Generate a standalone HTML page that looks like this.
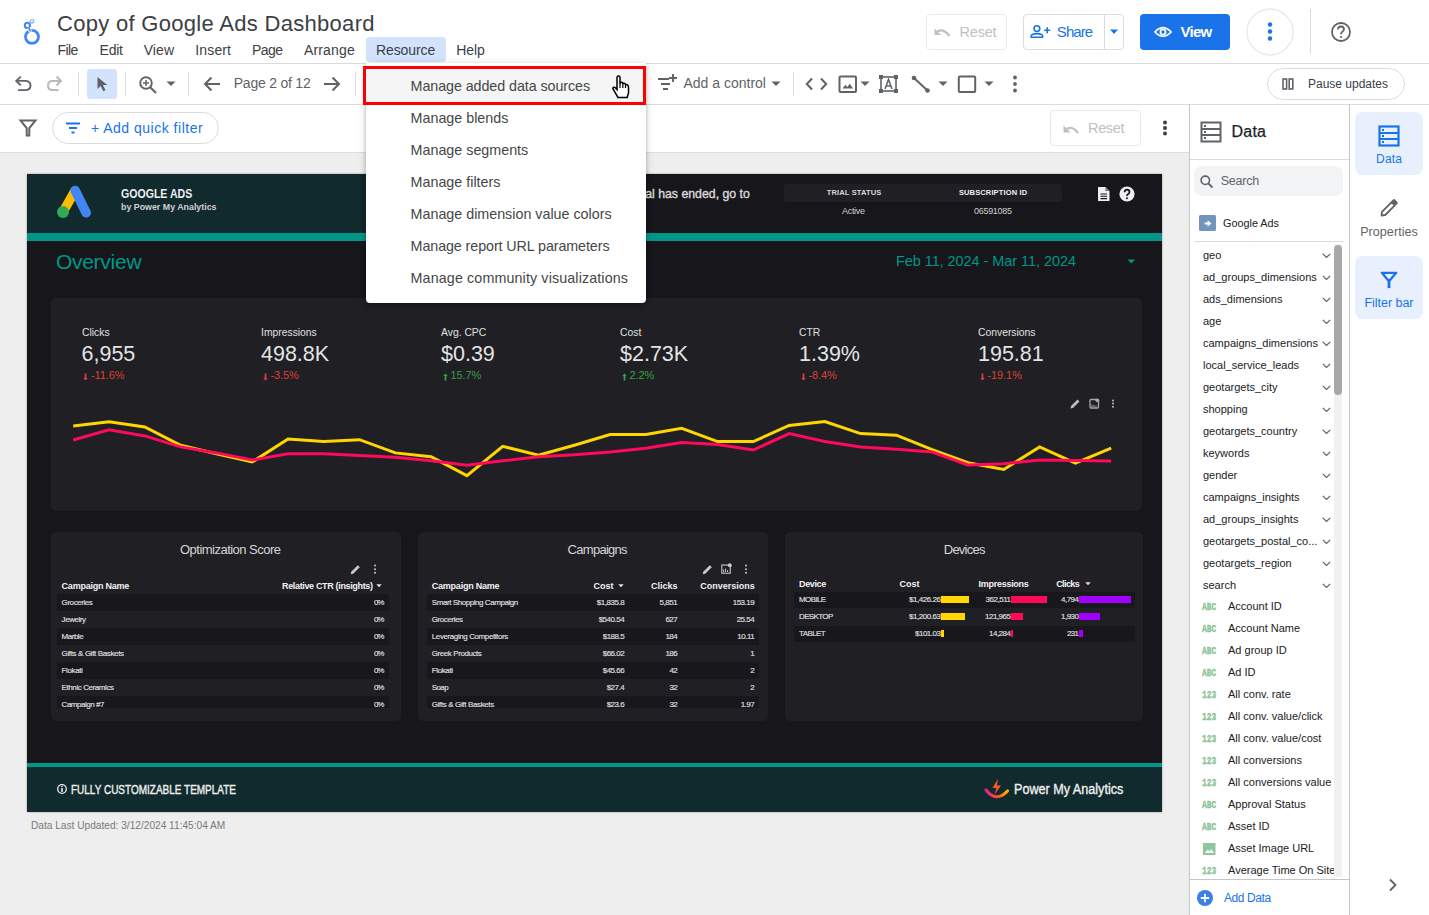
<!DOCTYPE html><html><head><meta charset="utf-8"><style>
html,body{margin:0;padding:0;}
body{width:1429px;height:915px;overflow:hidden;position:relative;background:#fff;font-family:"Liberation Sans",sans-serif;}
.t{position:absolute;white-space:nowrap;line-height:1;}
.r{position:absolute;}
.s{position:absolute;overflow:visible;}
</style></head><body>
<div class="r" style="left:0px;top:153px;width:1189px;height:762px;background:#eeeeee;"></div>
<div class="r" style="left:0px;top:63px;width:1429px;height:1px;background:#dadce0;"></div>
<div class="r" style="left:0px;top:104px;width:1429px;height:1px;background:#dadce0;"></div>
<div class="r" style="left:0px;top:152px;width:1189px;height:1px;background:#dadce0;"></div>
<svg class="s" style="left:22px;top:17px;" width="22" height="30" viewBox="0 0 22 30"><circle cx="10" cy="19.8" r="6.5" fill="none" stroke="#4285f4" stroke-width="2.8"/><circle cx="5.4" cy="8.4" r="2.6" fill="none" stroke="#4285f4" stroke-width="2"/><path d="M6.9 10.6 L8.4 14.8" stroke="#fff" stroke-width="3.4"/><path d="M6.9 10.6 L8.2 14.3" stroke="#4285f4" stroke-width="1.8"/><circle cx="10" cy="4.3" r="1.7" fill="none" stroke="#8ab4f8" stroke-width="1.3"/></svg>
<div class="t" style="left:57.00px;top:13.00px;font-size:22px;color:#3c4043;letter-spacing:0.299px;">Copy of Google Ads Dashboard</div>
<div class="r" style="left:366px;top:37px;width:80px;height:25px;background:#d3e3fd;border-radius:4px;"></div>
<div class="t" style="left:57.60px;top:43.00px;font-size:14px;color:#3c4043;letter-spacing:-0.653px;">File</div>
<div class="t" style="left:99.50px;top:43.00px;font-size:14px;color:#3c4043;letter-spacing:-0.208px;">Edit</div>
<div class="t" style="left:143.70px;top:43.00px;font-size:14px;color:#3c4043;letter-spacing:0.069px;">View</div>
<div class="t" style="left:195.30px;top:43.00px;font-size:14px;color:#3c4043;letter-spacing:0.137px;">Insert</div>
<div class="t" style="left:252.00px;top:43.00px;font-size:14px;color:#3c4043;letter-spacing:-0.533px;">Page</div>
<div class="t" style="left:304.00px;top:43.00px;font-size:14px;color:#3c4043;letter-spacing:0.148px;">Arrange</div>
<div class="t" style="left:376.00px;top:43.00px;font-size:14px;color:#3c4043;letter-spacing:-0.103px;">Resource</div>
<div class="t" style="left:456.30px;top:43.00px;font-size:14px;color:#3c4043;letter-spacing:-0.131px;">Help</div>
<div class="r" style="left:926px;top:14px;width:81px;height:36px;background:#fff;border:1px solid #e8eaed;border-radius:4px;box-sizing:border-box;"></div>
<svg class="s" style="left:932px;top:25px;" width="22" height="16" viewBox="0 0 22 16"><path d="M4 7.5 Q11 2 17.5 11" fill="none" stroke="#bdc1c6" stroke-width="2.2"/><path d="M2.5 3.5 V10 H9 Z" fill="#bdc1c6"/></svg>
<div class="t" style="left:959.60px;top:25.00px;font-size:14.5px;color:#bdc1c6;letter-spacing:-0.220px;">Reset</div>
<div class="r" style="left:1023px;top:14px;width:101px;height:36px;background:#fff;border:1px solid #dadce0;border-radius:4px;box-sizing:border-box;"></div>
<div class="r" style="left:1104px;top:14px;width:1px;height:36px;background:#dadce0;"></div>
<svg class="s" style="left:1030px;top:21px;" width="22" height="20" viewBox="0 0 22 20"><circle cx="6.9" cy="7.6" r="2.9" fill="none" stroke="#1a73e8" stroke-width="1.6"/><path d="M1.2 16.3 V15.3 Q1.2 12.6 6.9 12.6 Q12.6 12.6 12.6 15.3 V16.3 Z" fill="none" stroke="#1a73e8" stroke-width="1.6"/><path d="M14.2 9.3 H20.2 M17.2 6.3 V12.3" stroke="#1a73e8" stroke-width="1.6"/></svg>
<div class="t" style="left:1056.80px;top:24.00px;font-size:15px;color:#1a73e8;letter-spacing:-0.907px;">Share</div>
<svg class="s" style="left:1109px;top:29px;" width="10" height="6" viewBox="0 0 10 6"><path d="M1 0.6 H9 L5 5 Z" fill="#1a73e8"/></svg>
<div class="r" style="left:1140px;top:14px;width:90px;height:36px;background:#1a73e8;border-radius:4px;"></div>
<svg class="s" style="left:1154px;top:26px;" width="18" height="12" viewBox="0 0 18 12"><path d="M0.9 6 Q9 -2.6 17.1 6 Q9 14.6 0.9 6 Z" fill="none" stroke="#fff" stroke-width="1.7"/><circle cx="9" cy="6" r="2.6" fill="none" stroke="#fff" stroke-width="1.7"/></svg>
<div class="t" style="left:1180.40px;top:24.00px;font-size:15px;color:#fff;font-weight:700;letter-spacing:-0.704px;">View</div>
<svg class="s" style="left:1246px;top:8px;" width="48" height="48" viewBox="0 0 48 48"><circle cx="24" cy="24" r="23" fill="#fff" stroke="#e8eaed" stroke-width="1.5"/><circle cx="24" cy="16.5" r="2.2" fill="#1a73e8"/><circle cx="24" cy="23.5" r="2.2" fill="#1a73e8"/><circle cx="24" cy="30.5" r="2.2" fill="#1a73e8"/></svg>
<div class="r" style="left:1310px;top:9px;width:1px;height:45px;background:#dadce0;"></div>
<svg class="s" style="left:1330px;top:22px;" width="22" height="22" viewBox="0 0 22 22"><circle cx="11" cy="10" r="9" fill="none" stroke="#5f6368" stroke-width="1.8"/><path d="M8 7.5 Q8 4.5 11 4.5 Q14 4.5 14 7.3 Q14 9 11.8 10.2 Q11 10.8 11 12.3" fill="none" stroke="#5f6368" stroke-width="1.8"/><circle cx="11" cy="15" r="1.1" fill="#5f6368"/></svg>
<svg class="s" style="left:12px;top:73px;" width="20" height="20" viewBox="0 0 20 20"><path d="M4.5 7.9 H13 Q18.5 7.9 18.5 12.5 Q18.5 17.1 13 17.1 H6" fill="none" stroke="#5f6368" stroke-width="1.9"/><path d="M8.7 3.6 L4.3 7.9 L8.7 12.2" fill="none" stroke="#5f6368" stroke-width="1.9"/></svg>
<svg class="s" style="left:45px;top:73px;" width="20" height="20" viewBox="0 0 20 20"><path d="M15 8 H7.5 Q3 8 3 12.5 Q3 17 7.5 17 H13.5" fill="none" stroke="#bababa" stroke-width="2"/><path d="M11.5 3.5 L16 8 L11.5 12.5" fill="none" stroke="#bababa" stroke-width="2"/></svg>
<div class="r" style="left:78px;top:72px;width:1px;height:24px;background:#dadce0;"></div>
<div class="r" style="left:87px;top:69px;width:30px;height:30px;background:#d3e3fd;border-radius:3px;"></div>
<svg class="s" style="left:96px;top:76px;" width="14" height="16" viewBox="0 0 14 16"><path d="M1.5 1 L1.5 13 L4.6 10 L7.3 15.3 L9.5 14.2 L6.9 9 L11.3 9 Z" fill="#5f6368"/></svg>
<div class="r" style="left:125px;top:72px;width:1px;height:24px;background:#dadce0;"></div>
<svg class="s" style="left:138px;top:75px;" width="20" height="20" viewBox="0 0 20 20"><circle cx="8" cy="8" r="5.8" fill="none" stroke="#5f6368" stroke-width="1.9"/><path d="M12.2 12.2 L18 18" stroke="#5f6368" stroke-width="2.1"/><path d="M8 5 V11 M5 8 H11" stroke="#5f6368" stroke-width="1.5"/></svg>
<svg class="s" style="left:166px;top:81px;" width="10" height="6" viewBox="0 0 10 6"><path d="M0.5 0.5 H9.5 L5 5 Z" fill="#5f6368"/></svg>
<div class="r" style="left:188px;top:72px;width:1px;height:24px;background:#dadce0;"></div>
<svg class="s" style="left:202px;top:75px;" width="20" height="18" viewBox="0 0 20 18"><path d="M18 9 H3 M9.5 2.5 L3 9 L9.5 15.5" fill="none" stroke="#5f6368" stroke-width="2"/></svg>
<div class="t" style="left:233.70px;top:76.00px;font-size:14px;color:#5f6368;letter-spacing:-0.218px;">Page 2 of 12</div>
<svg class="s" style="left:322px;top:75px;" width="20" height="18" viewBox="0 0 20 18"><path d="M2 9 H17 M10.5 2.5 L17 9 L10.5 15.5" fill="none" stroke="#5f6368" stroke-width="2"/></svg>
<div class="r" style="left:355px;top:72px;width:1px;height:24px;background:#dadce0;"></div>
<svg class="s" style="left:656px;top:72px;" width="24" height="20" viewBox="0 0 24 20"><path d="M2 7 H13 M5 12 H14 M7 17 H12" stroke="#5f6368" stroke-width="1.9"/><path d="M17 2 V10 M13 6 H21" stroke="#5f6368" stroke-width="1.9"/></svg>
<div class="t" style="left:683.40px;top:76.00px;font-size:14px;color:#5f6368;letter-spacing:0.008px;">Add a control</div>
<svg class="s" style="left:771px;top:81px;" width="10" height="6" viewBox="0 0 10 6"><path d="M0.5 0.5 H9.5 L5 5 Z" fill="#5f6368"/></svg>
<div class="r" style="left:793px;top:72px;width:1px;height:24px;background:#dadce0;"></div>
<svg class="s" style="left:805px;top:77px;" width="24" height="14" viewBox="0 0 24 14"><path d="M7 1.5 L1.8 7 L7 12.5 M16 1.5 L21.2 7 L16 12.5" fill="none" stroke="#5f6368" stroke-width="2"/></svg>
<svg class="s" style="left:838px;top:75px;" width="20" height="18" viewBox="0 0 20 18"><rect x="1.5" y="1.5" width="16.5" height="15.5" rx="1" fill="none" stroke="#5f6368" stroke-width="2"/><path d="M4.5 13.5 L7.3 9.8 L9.3 12 L11.8 8.8 L15 13.5 Z" fill="#5f6368"/></svg>
<svg class="s" style="left:860px;top:81px;" width="10" height="6" viewBox="0 0 10 6"><path d="M0.5 0.5 H9.5 L5 5 Z" fill="#5f6368"/></svg>
<svg class="s" style="left:879px;top:75px;" width="20" height="18" viewBox="0 0 20 18"><rect x="2" y="2" width="15" height="14" fill="none" stroke="#5f6368" stroke-width="1.6"/><rect x="0" y="0" width="4" height="4" fill="#5f6368"/><rect x="15" y="0" width="4" height="4" fill="#5f6368"/><rect x="0" y="14" width="4" height="4" fill="#5f6368"/><rect x="15" y="14" width="4" height="4" fill="#5f6368"/><path d="M6 14 L9.5 4.5 L13 14 M7.2 11 H11.8" fill="none" stroke="#5f6368" stroke-width="1.5"/></svg>
<svg class="s" style="left:911px;top:75px;" width="20" height="18" viewBox="0 0 20 18"><path d="M3 3 L16.5 15.5" stroke="#5f6368" stroke-width="2"/><circle cx="3" cy="3" r="2.3" fill="#5f6368"/><circle cx="16.5" cy="15.5" r="2.3" fill="#5f6368"/></svg>
<svg class="s" style="left:938px;top:81px;" width="10" height="6" viewBox="0 0 10 6"><path d="M0.5 0.5 H9.5 L5 5 Z" fill="#5f6368"/></svg>
<svg class="s" style="left:957px;top:75px;" width="20" height="18" viewBox="0 0 20 18"><rect x="1.8" y="1.5" width="16.4" height="15.5" rx="1" fill="none" stroke="#5f6368" stroke-width="2"/></svg>
<svg class="s" style="left:984px;top:81px;" width="10" height="6" viewBox="0 0 10 6"><path d="M0.5 0.5 H9.5 L5 5 Z" fill="#5f6368"/></svg>
<svg class="s" style="left:1011px;top:75px;" width="8" height="18" viewBox="0 0 8 18"><circle cx="4" cy="2.5" r="1.9" fill="#5f6368"/><circle cx="4" cy="9" r="1.9" fill="#5f6368"/><circle cx="4" cy="15.5" r="1.9" fill="#5f6368"/></svg>
<div class="r" style="left:1267px;top:68px;width:138px;height:32px;background:#fff;border:1px solid #dadce0;border-radius:16px;box-sizing:border-box;"></div>
<svg class="s" style="left:1282px;top:78px;" width="12" height="12" viewBox="0 0 12 12"><rect x="1" y="1" width="3.6" height="10" fill="none" stroke="#5f6368" stroke-width="1.6"/><rect x="7.2" y="1" width="3.6" height="10" fill="none" stroke="#5f6368" stroke-width="1.6"/></svg>
<div class="t" style="left:1308.00px;top:78.00px;font-size:12px;color:#3c4043;letter-spacing:-0.005px;">Pause updates</div>
<svg class="s" style="left:19px;top:119px;" width="18" height="18" viewBox="0 0 18 18"><path d="M1.5 1.5 H16.5 L10.3 9 V16.5 H7.7 V9 Z" fill="none" stroke="#5f6368" stroke-width="2" stroke-linejoin="miter"/></svg>
<div class="r" style="left:52px;top:112px;width:167px;height:32px;background:#fff;border:1px solid #dadce0;border-radius:16px;box-sizing:border-box;"></div>
<svg class="s" style="left:65px;top:122px;" width="16" height="12" viewBox="0 0 16 12"><path d="M1 1.5 H15 M4 6 H12 M6.5 10.5 H9.5" stroke="#1a73e8" stroke-width="1.8"/></svg>
<div class="t" style="left:90.90px;top:121.00px;font-size:14px;color:#1a73e8;letter-spacing:0.505px;">+ Add quick filter</div>
<div class="r" style="left:1050px;top:110px;width:91px;height:36px;background:#fff;border:1px solid #e8eaed;border-radius:4px;box-sizing:border-box;"></div>
<svg class="s" style="left:1062px;top:124px;" width="18" height="12" viewBox="0 0 18 12"><path d="M3.5 6 Q10 0.5 16 9" fill="none" stroke="#bdc1c6" stroke-width="2.2"/><path d="M1.5 1.5 V8.5 H8.5 Z" fill="#bdc1c6"/></svg>
<div class="t" style="left:1088.00px;top:121.00px;font-size:14.5px;color:#bdc1c6;letter-spacing:-0.345px;">Reset</div>
<svg class="s" style="left:1161px;top:120px;" width="8" height="16" viewBox="0 0 8 16"><circle cx="4" cy="2.5" r="2" fill="#3c4043"/><circle cx="4" cy="8" r="2" fill="#3c4043"/><circle cx="4" cy="13.5" r="2" fill="#3c4043"/></svg>
<div class="r" style="left:27px;top:174px;width:1135px;height:638px;background:#16161b;box-shadow:0 0 2px rgba(0,0,0,0.35);"></div>
<div class="r" style="left:27px;top:174px;width:1135px;height:59px;background:#102a2d;"></div>
<div class="r" style="left:520px;top:174px;width:642px;height:59px;background:#16161b;"></div>
<div class="r" style="left:27px;top:233px;width:1135px;height:8px;background:#009688;"></div>
<div class="r" style="left:27px;top:763px;width:1135px;height:4px;background:#009688;"></div>
<div class="r" style="left:27px;top:767px;width:1135px;height:45px;background:#102a2d;"></div>
<svg class="s" style="left:55px;top:184px;" width="40" height="36" viewBox="0 0 40 36"><path d="M8 28 L20 6.8" stroke="#fbbc04" stroke-width="9.4" stroke-linecap="round"/><path d="M20.2 6.5 L31.2 28.8" stroke="#4285f4" stroke-width="9.6" stroke-linecap="round"/><circle cx="8" cy="28" r="6" fill="#34a853"/></svg>
<div class="t" style="left:120.50px;top:188.00px;font-size:12px;color:#eeeeee;font-weight:700;transform:scaleX(0.8814);transform-origin:0 0;">GOOGLE ADS</div>
<div class="t" style="left:120.50px;top:202.00px;font-size:9.5px;color:#d0d0d0;font-weight:700;transform:scaleX(0.9308);transform-origin:0 0;">by Power My Analytics</div>
<div class="t" style="left:582.45px;top:187.00px;font-size:13px;color:#d8d8d8;transform:scaleX(0.9467);transform-origin:0 0;-webkit-text-stroke:0.4px #d8d8d8;">Your free trial has ended, go to</div>
<div class="r" style="left:784px;top:184px;width:278px;height:18px;background:#1f1f24;border-radius:3px;"></div>
<div class="t" style="left:826.70px;top:189.00px;font-size:7.5px;color:#d8d8d8;font-weight:700;letter-spacing:0.153px;">TRIAL STATUS</div>
<div class="t" style="left:958.90px;top:189.00px;font-size:7.5px;color:#eeeeee;font-weight:700;letter-spacing:0.139px;">SUBSCRIPTION ID</div>
<div class="t" style="left:842.00px;top:207.00px;font-size:9px;color:#cfcfcf;letter-spacing:-0.302px;">Active</div>
<div class="t" style="left:974.10px;top:207.00px;font-size:9px;color:#cfcfcf;letter-spacing:-0.321px;">06591085</div>
<svg class="s" style="left:1097px;top:186px;" width="14" height="16" viewBox="0 0 14 16"><path d="M1 1 H8.5 L12.5 5 V15 H1 Z" fill="#eeeeee"/><path d="M8.5 1 V5 H12.5" fill="#777"/><path d="M3.5 8 H10 M3.5 10.3 H10 M3.5 12.6 H10" stroke="#16161b" stroke-width="1.1"/></svg>
<svg class="s" style="left:1119px;top:186px;" width="16" height="16" viewBox="0 0 16 16"><circle cx="8" cy="8" r="7.6" fill="#eeeeee"/><path d="M5.6 6.3 Q5.6 3.6 8 3.6 Q10.5 3.6 10.5 6 Q10.5 7.4 8.9 8.2 Q8 8.7 8 10" fill="none" stroke="#16161b" stroke-width="1.7"/><circle cx="8" cy="12.2" r="1" fill="#16161b"/></svg>
<div class="t" style="left:55.90px;top:251.00px;font-size:21px;color:#009688;letter-spacing:-0.260px;">Overview</div>
<div class="t" style="left:896.00px;top:254.00px;font-size:14.5px;color:#009688;letter-spacing:-0.063px;">Feb 11, 2024 - Mar 11, 2024</div>
<svg class="s" style="left:1127px;top:259px;" width="9" height="5" viewBox="0 0 9 5"><path d="M0.5 0.5 H8 L4.25 4.5 Z" fill="#009688"/></svg>
<div class="r" style="left:51px;top:298px;width:1091px;height:213px;background:#1f1f24;border-radius:5px;"></div>
<div class="t" style="left:81.50px;top:327.00px;font-size:11.5px;color:#e0e0e0;transform:scaleX(0.9000);transform-origin:0 0;">Clicks</div>
<div class="t" style="left:81.50px;top:344.00px;font-size:21.5px;color:#e4e4e4;">6,955</div>
<svg class="s" style="left:83.0px;top:373px;" width="5" height="8" viewBox="0 0 5 8"><path d="M1.6 0.5 H3.4 V5 H4.8 L2.5 7.5 L0.2 5 H1.6 Z" fill="#df3f38"/></svg>
<div class="t" style="left:90.90px;top:370.00px;font-size:11px;color:#df3f38;letter-spacing:-0.062px;">-11.6%</div>
<div class="t" style="left:261.00px;top:327.00px;font-size:11.5px;color:#e0e0e0;transform:scaleX(0.9000);transform-origin:0 0;">Impressions</div>
<div class="t" style="left:261.00px;top:344.00px;font-size:21.5px;color:#e4e4e4;">498.8K</div>
<svg class="s" style="left:262.5px;top:373px;" width="5" height="8" viewBox="0 0 5 8"><path d="M1.6 0.5 H3.4 V5 H4.8 L2.5 7.5 L0.2 5 H1.6 Z" fill="#df3f38"/></svg>
<div class="t" style="left:270.40px;top:370.00px;font-size:11px;color:#df3f38;letter-spacing:-0.065px;">-3.5%</div>
<div class="t" style="left:441.00px;top:327.00px;font-size:11.5px;color:#e0e0e0;transform:scaleX(0.9000);transform-origin:0 0;">Avg. CPC</div>
<div class="t" style="left:441.00px;top:344.00px;font-size:21.5px;color:#e4e4e4;">$0.39</div>
<svg class="s" style="left:442.5px;top:373px;" width="5" height="8" viewBox="0 0 5 8"><path d="M2.5 0.5 L4.8 3 H3.4 V7.5 H1.6 V3 H0.2 Z" fill="#34a245"/></svg>
<div class="t" style="left:450.40px;top:370.00px;font-size:11px;color:#34a245;letter-spacing:-0.071px;">15.7%</div>
<div class="t" style="left:620.00px;top:327.00px;font-size:11.5px;color:#e0e0e0;transform:scaleX(0.9000);transform-origin:0 0;">Cost</div>
<div class="t" style="left:620.00px;top:344.00px;font-size:21.5px;color:#e4e4e4;">$2.73K</div>
<svg class="s" style="left:621.5px;top:373px;" width="5" height="8" viewBox="0 0 5 8"><path d="M2.5 0.5 L4.8 3 H3.4 V7.5 H1.6 V3 H0.2 Z" fill="#34a245"/></svg>
<div class="t" style="left:629.40px;top:370.00px;font-size:11px;color:#34a245;letter-spacing:-0.076px;">2.2%</div>
<div class="t" style="left:799.00px;top:327.00px;font-size:11.5px;color:#e0e0e0;transform:scaleX(0.9000);transform-origin:0 0;">CTR</div>
<div class="t" style="left:799.00px;top:344.00px;font-size:21.5px;color:#e4e4e4;">1.39%</div>
<svg class="s" style="left:800.5px;top:373px;" width="5" height="8" viewBox="0 0 5 8"><path d="M1.6 0.5 H3.4 V5 H4.8 L2.5 7.5 L0.2 5 H1.6 Z" fill="#df3f38"/></svg>
<div class="t" style="left:808.40px;top:370.00px;font-size:11px;color:#df3f38;letter-spacing:-0.065px;">-8.4%</div>
<div class="t" style="left:978.00px;top:327.00px;font-size:11.5px;color:#e0e0e0;transform:scaleX(0.9000);transform-origin:0 0;">Conversions</div>
<div class="t" style="left:978.00px;top:344.00px;font-size:21.5px;color:#e4e4e4;">195.81</div>
<svg class="s" style="left:979.5px;top:373px;" width="5" height="8" viewBox="0 0 5 8"><path d="M1.6 0.5 H3.4 V5 H4.8 L2.5 7.5 L0.2 5 H1.6 Z" fill="#df3f38"/></svg>
<div class="t" style="left:987.40px;top:370.00px;font-size:11px;color:#df3f38;letter-spacing:-0.063px;">-19.1%</div>
<svg class="s" style="left:1069px;top:398px;" width="12" height="12" viewBox="0 0 12 12"><path d="M1.5 10.5 L2 8 L8.5 1.5 L10.5 3.5 L4 10 Z" fill="#bdbdbd"/></svg>
<svg class="s" style="left:1089px;top:398px;" width="11" height="11" viewBox="0 0 11 11"><rect x="1" y="1.5" width="8.5" height="8.5" rx="1" fill="none" stroke="#a8a8a8" stroke-width="1.3"/><path d="M3 9 V6.5 M5 9 V7 M7 9 V7.5" stroke="#a8a8a8" stroke-width="1"/><circle cx="8.3" cy="2.3" r="1.9" fill="#a8a8a8"/></svg>
<svg class="s" style="left:1111px;top:398px;" width="4" height="12" viewBox="0 0 4 12"><circle cx="2" cy="2.5" r="1" fill="#bdbdbd"/><circle cx="2" cy="5.6" r="1" fill="#bdbdbd"/><circle cx="2" cy="8.7" r="1" fill="#bdbdbd"/></svg>
<svg class="s" style="left:51px;top:380px;" width="1091" height="120" viewBox="0 0 1091 120"><polyline points="22.2,45.9 58.0,41.7 93.8,47.0 129.6,65.3 165.4,73.8 201.2,82.0 237.0,59.1 272.8,61.6 308.5,59.7 344.3,72.9 380.1,76.7 415.9,95.6 451.7,66.3 487.5,75.2 523.3,65.3 559.1,54.6 594.9,54.6 630.7,48.3 666.5,61.6 702.3,61.6 738.1,45.5 773.9,41.5 809.6,53.6 845.4,55.2 881.2,69.7 917.0,82.7 952.8,89.4 988.6,67.0 1024.4,83.1 1060.2,68.1" fill="none" stroke="#ffd600" stroke-width="3" stroke-linejoin="miter"/><polyline points="22.2,60.0 58.0,49.7 93.8,55.9 129.6,66.9 165.4,72.9 201.2,80.0 237.0,73.8 272.8,73.8 308.5,75.4 344.3,77.2 380.1,80.8 415.9,85.2 451.7,80.8 487.5,76.7 523.3,74.8 559.1,72.0 594.9,68.2 630.7,62.5 666.5,64.4 702.3,70.0 738.1,53.6 773.9,61.4 809.6,67.0 845.4,69.3 881.2,72.0 917.0,84.9 952.8,83.8 988.6,80.0 1024.4,80.5 1060.2,81.1" fill="none" stroke="#ff0a5a" stroke-width="3" stroke-linejoin="miter"/></svg>
<div class="r" style="left:51px;top:532px;width:350px;height:189px;background:#1f1f24;border-radius:5px;"></div>
<div class="r" style="left:418px;top:532px;width:350px;height:189px;background:#1f1f24;border-radius:5px;"></div>
<div class="r" style="left:785px;top:532px;width:358px;height:189px;background:#1f1f24;border-radius:5px;"></div>
<div class="t" style="left:180.00px;top:543.00px;font-size:13px;color:#d6d6d6;letter-spacing:-0.519px;">Optimization Score</div>
<div class="t" style="left:567.60px;top:543.00px;font-size:13px;color:#d6d6d6;letter-spacing:-0.720px;">Campaigns</div>
<div class="t" style="left:943.75px;top:543.00px;font-size:13px;color:#d6d6d6;letter-spacing:-0.756px;">Devices</div>
<svg class="s" style="left:350px;top:564px;" width="11" height="11" viewBox="0 0 11 11"><path d="M0.8 10.2 L1.2 7.8 L7.8 1.2 L9.8 3.2 L3.2 9.8 Z" fill="#c8c8c8"/></svg>
<svg class="s" style="left:373px;top:564px;" width="4" height="11" viewBox="0 0 4 11"><circle cx="2" cy="1.6" r="1" fill="#c8c8c8"/><circle cx="2" cy="5.2" r="1" fill="#c8c8c8"/><circle cx="2" cy="8.8" r="1" fill="#c8c8c8"/></svg>
<svg class="s" style="left:702px;top:564px;" width="11" height="11" viewBox="0 0 11 11"><path d="M0.8 10.2 L1.2 7.8 L7.8 1.2 L9.8 3.2 L3.2 9.8 Z" fill="#c8c8c8"/></svg>
<svg class="s" style="left:721px;top:563px;" width="11" height="11" viewBox="0 0 11 11"><rect x="0.8" y="2" width="8.5" height="8.2" fill="none" stroke="#c8c8c8" stroke-width="1.1"/><path d="M2.6 9 V6.5 M4.6 9 V5.5 M6.6 9 V7.2" stroke="#c8c8c8" stroke-width="1"/><circle cx="8.8" cy="2.2" r="2" fill="#c8c8c8"/></svg>
<svg class="s" style="left:744px;top:564px;" width="4" height="11" viewBox="0 0 4 11"><circle cx="2" cy="1.6" r="1" fill="#c8c8c8"/><circle cx="2" cy="5.2" r="1" fill="#c8c8c8"/><circle cx="2" cy="8.8" r="1" fill="#c8c8c8"/></svg>
<div class="r" style="left:57px;top:594px;width:332px;height:114px;background:#1f1f24;"></div>
<div class="r" style="left:57px;top:594px;width:332px;height:17px;background:#17171c;"></div>
<div class="r" style="left:57px;top:628px;width:332px;height:17px;background:#17171c;"></div>
<div class="r" style="left:57px;top:662px;width:332px;height:17px;background:#17171c;"></div>
<div class="r" style="left:57px;top:696px;width:332px;height:12px;background:#17171c;"></div>
<div class="t" style="left:61.60px;top:582.00px;font-size:9px;color:#f2f2f2;font-weight:700;letter-spacing:-0.235px;">Campaign Name</div>
<div class="t" style="left:282.00px;top:582.00px;font-size:9px;color:#f2f2f2;font-weight:700;letter-spacing:-0.342px;">Relative CTR (insights)</div>
<svg class="s" style="left:376px;top:584px;" width="6" height="4" viewBox="0 0 6 4"><path d="M0.3 0.3 H5.7 L3 3.3 Z" fill="#e6e6e6"/></svg>
<div class="t" style="left:61.60px;top:599.00px;font-size:8px;color:#dcdcdc;letter-spacing:-0.433px;-webkit-text-stroke:0.2px #dcdcdc;">Groceries</div>
<div class="t" style="left:373.99px;top:599.00px;font-size:8px;color:#dcdcdc;letter-spacing:-1.156px;-webkit-text-stroke:0.2px #dcdcdc;">0%</div>
<div class="t" style="left:61.60px;top:616.00px;font-size:8px;color:#dcdcdc;letter-spacing:-0.452px;-webkit-text-stroke:0.2px #dcdcdc;">Jewelry</div>
<div class="t" style="left:373.99px;top:616.00px;font-size:8px;color:#dcdcdc;letter-spacing:-1.156px;-webkit-text-stroke:0.2px #dcdcdc;">0%</div>
<div class="t" style="left:61.60px;top:633.00px;font-size:8px;color:#dcdcdc;letter-spacing:-0.489px;-webkit-text-stroke:0.2px #dcdcdc;">Marble</div>
<div class="t" style="left:373.99px;top:633.00px;font-size:8px;color:#dcdcdc;letter-spacing:-1.156px;-webkit-text-stroke:0.2px #dcdcdc;">0%</div>
<div class="t" style="left:61.60px;top:650.00px;font-size:8px;color:#dcdcdc;letter-spacing:-0.365px;-webkit-text-stroke:0.2px #dcdcdc;">Gifts &amp; Gift Baskets</div>
<div class="t" style="left:373.99px;top:650.00px;font-size:8px;color:#dcdcdc;letter-spacing:-1.156px;-webkit-text-stroke:0.2px #dcdcdc;">0%</div>
<div class="t" style="left:61.60px;top:667.00px;font-size:8px;color:#dcdcdc;letter-spacing:-0.393px;-webkit-text-stroke:0.2px #dcdcdc;">Flokati</div>
<div class="t" style="left:373.99px;top:667.00px;font-size:8px;color:#dcdcdc;letter-spacing:-1.156px;-webkit-text-stroke:0.2px #dcdcdc;">0%</div>
<div class="t" style="left:61.60px;top:684.00px;font-size:8px;color:#dcdcdc;letter-spacing:-0.416px;-webkit-text-stroke:0.2px #dcdcdc;">Ethnic Ceramics</div>
<div class="t" style="left:373.99px;top:684.00px;font-size:8px;color:#dcdcdc;letter-spacing:-1.156px;-webkit-text-stroke:0.2px #dcdcdc;">0%</div>
<div class="t" style="left:61.60px;top:701.00px;font-size:8px;color:#dcdcdc;letter-spacing:-0.476px;-webkit-text-stroke:0.2px #dcdcdc;">Campaign #7</div>
<div class="t" style="left:373.99px;top:701.00px;font-size:8px;color:#dcdcdc;letter-spacing:-1.156px;-webkit-text-stroke:0.2px #dcdcdc;">0%</div>
<div class="r" style="left:427px;top:594px;width:332px;height:17px;background:#17171c;"></div>
<div class="r" style="left:427px;top:628px;width:332px;height:17px;background:#17171c;"></div>
<div class="r" style="left:427px;top:662px;width:332px;height:17px;background:#17171c;"></div>
<div class="r" style="left:427px;top:696px;width:332px;height:12px;background:#17171c;"></div>
<div class="t" style="left:431.80px;top:582.00px;font-size:9px;color:#f2f2f2;font-weight:700;letter-spacing:-0.235px;">Campaign Name</div>
<div class="t" style="left:593.60px;top:582.00px;font-size:9px;color:#f2f2f2;font-weight:700;">Cost</div>
<svg class="s" style="left:617.5px;top:584px;" width="6" height="4" viewBox="0 0 6 4"><path d="M0.3 0.3 H5.7 L3 3.3 Z" fill="#e6e6e6"/></svg>
<div class="t" style="left:651.08px;top:582.00px;font-size:9px;color:#f2f2f2;font-weight:700;">Clicks</div>
<div class="t" style="left:700.18px;top:582.00px;font-size:9px;color:#f2f2f2;font-weight:700;">Conversions</div>
<div class="t" style="left:431.80px;top:599.00px;font-size:8px;color:#dcdcdc;letter-spacing:-0.437px;-webkit-text-stroke:0.2px #dcdcdc;">Smart Shopping Campaign</div>
<div class="t" style="left:596.67px;top:599.00px;font-size:8px;color:#dcdcdc;letter-spacing:-0.445px;-webkit-text-stroke:0.2px #dcdcdc;">$1,835.8</div>
<div class="t" style="left:659.58px;top:599.00px;font-size:8px;color:#dcdcdc;letter-spacing:-0.500px;-webkit-text-stroke:0.2px #dcdcdc;">5,851</div>
<div class="t" style="left:732.68px;top:599.00px;font-size:8px;color:#dcdcdc;letter-spacing:-0.489px;-webkit-text-stroke:0.2px #dcdcdc;">153.19</div>
<div class="t" style="left:431.80px;top:616.00px;font-size:8px;color:#dcdcdc;letter-spacing:-0.433px;-webkit-text-stroke:0.2px #dcdcdc;">Groceries</div>
<div class="t" style="left:598.67px;top:616.00px;font-size:8px;color:#dcdcdc;letter-spacing:-0.482px;-webkit-text-stroke:0.2px #dcdcdc;">$540.54</div>
<div class="t" style="left:665.59px;top:616.00px;font-size:8px;color:#dcdcdc;letter-spacing:-0.667px;-webkit-text-stroke:0.2px #dcdcdc;">627</div>
<div class="t" style="left:736.68px;top:616.00px;font-size:8px;color:#dcdcdc;letter-spacing:-0.500px;-webkit-text-stroke:0.2px #dcdcdc;">25.54</div>
<div class="t" style="left:431.80px;top:633.00px;font-size:8px;color:#dcdcdc;letter-spacing:-0.404px;-webkit-text-stroke:0.2px #dcdcdc;">Leveraging Competitors</div>
<div class="t" style="left:602.68px;top:633.00px;font-size:8px;color:#dcdcdc;letter-spacing:-0.489px;-webkit-text-stroke:0.2px #dcdcdc;">$188.5</div>
<div class="t" style="left:665.59px;top:633.00px;font-size:8px;color:#dcdcdc;letter-spacing:-0.667px;-webkit-text-stroke:0.2px #dcdcdc;">184</div>
<div class="t" style="left:737.22px;top:633.00px;font-size:8px;color:#dcdcdc;letter-spacing:-0.486px;-webkit-text-stroke:0.2px #dcdcdc;">10.11</div>
<div class="t" style="left:431.80px;top:650.00px;font-size:8px;color:#dcdcdc;letter-spacing:-0.428px;-webkit-text-stroke:0.2px #dcdcdc;">Greek Products</div>
<div class="t" style="left:602.68px;top:650.00px;font-size:8px;color:#dcdcdc;letter-spacing:-0.489px;-webkit-text-stroke:0.2px #dcdcdc;">$66.02</div>
<div class="t" style="left:665.59px;top:650.00px;font-size:8px;color:#dcdcdc;letter-spacing:-0.667px;-webkit-text-stroke:0.2px #dcdcdc;">186</div>
<div class="t" style="left:750.25px;top:650.00px;font-size:8px;color:#dcdcdc;-webkit-text-stroke:0.2px #dcdcdc;">1</div>
<div class="t" style="left:431.80px;top:667.00px;font-size:8px;color:#dcdcdc;letter-spacing:-0.393px;-webkit-text-stroke:0.2px #dcdcdc;">Flokati</div>
<div class="t" style="left:602.68px;top:667.00px;font-size:8px;color:#dcdcdc;letter-spacing:-0.489px;-webkit-text-stroke:0.2px #dcdcdc;">$45.66</div>
<div class="t" style="left:669.59px;top:667.00px;font-size:8px;color:#dcdcdc;letter-spacing:-0.890px;-webkit-text-stroke:0.2px #dcdcdc;">42</div>
<div class="t" style="left:750.25px;top:667.00px;font-size:8px;color:#dcdcdc;-webkit-text-stroke:0.2px #dcdcdc;">2</div>
<div class="t" style="left:431.80px;top:684.00px;font-size:8px;color:#dcdcdc;letter-spacing:-0.623px;-webkit-text-stroke:0.2px #dcdcdc;">Soap</div>
<div class="t" style="left:606.68px;top:684.00px;font-size:8px;color:#dcdcdc;letter-spacing:-0.500px;-webkit-text-stroke:0.2px #dcdcdc;">$27.4</div>
<div class="t" style="left:669.59px;top:684.00px;font-size:8px;color:#dcdcdc;letter-spacing:-0.890px;-webkit-text-stroke:0.2px #dcdcdc;">32</div>
<div class="t" style="left:750.25px;top:684.00px;font-size:8px;color:#dcdcdc;-webkit-text-stroke:0.2px #dcdcdc;">2</div>
<div class="t" style="left:431.80px;top:701.00px;font-size:8px;color:#dcdcdc;letter-spacing:-0.365px;-webkit-text-stroke:0.2px #dcdcdc;">Gifts &amp; Gift Baskets</div>
<div class="t" style="left:606.68px;top:701.00px;font-size:8px;color:#dcdcdc;letter-spacing:-0.500px;-webkit-text-stroke:0.2px #dcdcdc;">$23.6</div>
<div class="t" style="left:669.59px;top:701.00px;font-size:8px;color:#dcdcdc;letter-spacing:-0.890px;-webkit-text-stroke:0.2px #dcdcdc;">32</div>
<div class="t" style="left:740.69px;top:701.00px;font-size:8px;color:#dcdcdc;letter-spacing:-0.519px;-webkit-text-stroke:0.2px #dcdcdc;">1.97</div>
<div class="r" style="left:794px;top:592px;width:341px;height:16px;background:#17171c;"></div>
<div class="r" style="left:794px;top:625.5px;width:341px;height:16.799999999999955px;background:#17171c;"></div>
<div class="t" style="left:799.00px;top:580.00px;font-size:9px;color:#f2f2f2;font-weight:700;letter-spacing:-0.364px;">Device</div>
<div class="t" style="left:899.50px;top:580.00px;font-size:9px;color:#f2f2f2;font-weight:700;">Cost</div>
<div class="t" style="left:978.60px;top:580.00px;font-size:9px;color:#f2f2f2;font-weight:700;letter-spacing:-0.282px;">Impressions</div>
<div class="t" style="left:1056.20px;top:580.00px;font-size:9px;color:#f2f2f2;font-weight:700;letter-spacing:-0.603px;">Clicks</div>
<svg class="s" style="left:1084.5px;top:582px;" width="6" height="4" viewBox="0 0 6 4"><path d="M0.3 0.3 H5.7 L3 3.3 Z" fill="#e6e6e6"/></svg>
<div class="t" style="left:799.00px;top:596.00px;font-size:8px;color:#dcdcdc;letter-spacing:-0.605px;-webkit-text-stroke:0.2px #dcdcdc;">MOBILE</div>
<div class="t" style="left:908.97px;top:596.00px;font-size:8px;color:#dcdcdc;letter-spacing:-0.445px;-webkit-text-stroke:0.2px #dcdcdc;">$1,426.26</div>
<div class="r" style="left:941px;top:596px;width:28px;height:7px;background:#ffd600;"></div>
<div class="t" style="left:985.51px;top:596.00px;font-size:8px;color:#dcdcdc;letter-spacing:-0.472px;-webkit-text-stroke:0.2px #dcdcdc;">362,511</div>
<div class="r" style="left:1011px;top:596px;width:36px;height:7px;background:#ff0a5a;"></div>
<div class="t" style="left:1060.98px;top:596.00px;font-size:8px;color:#dcdcdc;letter-spacing:-0.500px;-webkit-text-stroke:0.2px #dcdcdc;">4,794</div>
<div class="r" style="left:1079px;top:596px;width:52px;height:7px;background:#a100ff;"></div>
<div class="t" style="left:799.00px;top:613.00px;font-size:8px;color:#dcdcdc;letter-spacing:-0.635px;-webkit-text-stroke:0.2px #dcdcdc;">DESKTOP</div>
<div class="t" style="left:908.97px;top:613.00px;font-size:8px;color:#dcdcdc;letter-spacing:-0.445px;-webkit-text-stroke:0.2px #dcdcdc;">$1,200.63</div>
<div class="r" style="left:941px;top:613px;width:24px;height:7px;background:#ffd600;"></div>
<div class="t" style="left:984.97px;top:613.00px;font-size:8px;color:#dcdcdc;letter-spacing:-0.482px;-webkit-text-stroke:0.2px #dcdcdc;">121,965</div>
<div class="r" style="left:1011px;top:613px;width:12px;height:7px;background:#ff0a5a;"></div>
<div class="t" style="left:1060.98px;top:613.00px;font-size:8px;color:#dcdcdc;letter-spacing:-0.500px;-webkit-text-stroke:0.2px #dcdcdc;">1,930</div>
<div class="r" style="left:1079px;top:613px;width:21px;height:7px;background:#a100ff;"></div>
<div class="t" style="left:799.00px;top:630.00px;font-size:8px;color:#dcdcdc;letter-spacing:-0.593px;-webkit-text-stroke:0.2px #dcdcdc;">TABLET</div>
<div class="t" style="left:914.97px;top:630.00px;font-size:8px;color:#dcdcdc;letter-spacing:-0.482px;-webkit-text-stroke:0.2px #dcdcdc;">$101.03</div>
<div class="r" style="left:941px;top:630px;width:3px;height:7px;background:#ffd600;"></div>
<div class="t" style="left:988.98px;top:630.00px;font-size:8px;color:#dcdcdc;letter-spacing:-0.489px;-webkit-text-stroke:0.2px #dcdcdc;">14,284</div>
<div class="r" style="left:1011px;top:630px;width:2px;height:7px;background:#ff0a5a;"></div>
<div class="t" style="left:1066.99px;top:630.00px;font-size:8px;color:#dcdcdc;letter-spacing:-0.667px;-webkit-text-stroke:0.2px #dcdcdc;">231</div>
<div class="r" style="left:1079px;top:630px;width:4px;height:7px;background:#a100ff;"></div>
<svg class="s" style="left:57px;top:784px;" width="10" height="10" viewBox="0 0 10 10"><circle cx="5" cy="5" r="4.3" fill="none" stroke="#eeeeee" stroke-width="1.3"/><path d="M5 4 V8" stroke="#eeeeee" stroke-width="1.6"/><circle cx="5" cy="2.5" r="0.8" fill="#eeeeee"/></svg>
<div class="t" style="left:70.60px;top:784.00px;font-size:12.5px;color:#eeeeee;transform:scaleX(0.7989);transform-origin:0 0;-webkit-text-stroke:0.4px #eeeeee;">FULLY CUSTOMIZABLE TEMPLATE</div>
<svg class="s" style="left:983px;top:777px;" width="28" height="24" viewBox="0 0 28 24"><defs><linearGradient id="pg" x1="0" x2="1"><stop offset="0" stop-color="#e91e8c"/><stop offset="0.6" stop-color="#ff5722"/><stop offset="1" stop-color="#ffb300"/></linearGradient></defs><path d="M3 13 Q13 26 24.5 14" fill="none" stroke="url(#pg)" stroke-width="3.2" stroke-linecap="round"/><path d="M15 2 L9.5 11 H13.5 L11.5 17.5 L18 8.5 H14 Z" fill="#ff5722"/></svg>
<div class="t" style="left:1014.00px;top:782.00px;font-size:14px;color:#f0f0f0;transform:scaleX(0.9005);transform-origin:0 0;-webkit-text-stroke:0.35px #f0f0f0;">Power My Analytics</div>
<div class="t" style="left:30.70px;top:820.00px;font-size:11.5px;color:#7a7a7a;transform:scaleX(0.8817);transform-origin:0 0;">Data Last Updated: 3/12/2024 11:45:04 AM</div>
<div class="r" style="left:1189px;top:104px;width:1px;height:811px;background:#c4c7c5;"></div>
<div class="r" style="left:1349px;top:104px;width:1px;height:811px;background:#c4c7c5;"></div>
<svg class="s" style="left:1200px;top:121px;" width="22" height="22" viewBox="0 0 22 22"><rect x="1.5" y="1.5" width="19" height="19" fill="none" stroke="#5f6368" stroke-width="2"/><path d="M1.5 8 H20.5 M1.5 14 H20.5" stroke="#5f6368" stroke-width="2"/><rect x="4" y="4" width="2" height="2" fill="#5f6368"/><rect x="4" y="10" width="2" height="2" fill="#5f6368"/><rect x="4" y="16" width="2" height="2" fill="#5f6368"/></svg>
<div class="t" style="left:1231.60px;top:124.00px;font-size:16px;color:#202124;letter-spacing:0.201px;-webkit-text-stroke:0.25px #202124;">Data</div>
<div class="r" style="left:1190px;top:159px;width:159px;height:1px;background:#dadce0;"></div>
<div class="r" style="left:1194px;top:166px;width:149px;height:30px;background:#f1f3f4;border-radius:8px;"></div>
<svg class="s" style="left:1200px;top:175px;" width="14" height="13" viewBox="0 0 14 13"><circle cx="5.3" cy="5.3" r="4.2" fill="none" stroke="#5f6368" stroke-width="1.6"/><path d="M8.3 8.3 L12.5 12.5" stroke="#5f6368" stroke-width="1.8"/></svg>
<div class="t" style="left:1220.70px;top:175.00px;font-size:12.5px;color:#5f6368;letter-spacing:-0.221px;">Search</div>
<div class="r" style="left:1199px;top:215px;width:17px;height:16px;background:#7394bb;border-radius:1.5px;"></div>
<svg class="s" style="left:1203px;top:219px;" width="10" height="9" viewBox="0 0 10 9"><path d="M1.6 3.5 H4.6 V1.2 L8.4 4.5 L4.6 7.8 V5.5 H1.6 Z" fill="#fff"/></svg>
<div class="t" style="left:1223.40px;top:218.00px;font-size:11.5px;color:#202124;transform:scaleX(0.9418);transform-origin:0 0;">Google Ads</div>
<div class="r" style="left:1194px;top:241px;width:150px;height:1px;background:#dadce0;"></div>
<div class="r" style="left:1334px;top:244px;width:8px;height:633px;background:#f1f1f1;"></div>
<div class="r" style="left:1334px;top:244.5px;width:8px;height:150.0px;background:#a8a8a8;border-radius:4px;"></div>
<div style="position:absolute;left:1190px;top:242px;width:144px;height:635px;overflow:hidden;">
<div class="t" style="left:13.00px;top:8.00px;font-size:11px;color:#202124;">geo</div>
<svg class="s" style="left:131.5px;top:10.5px;" width="9" height="6" viewBox="0 0 9 6"><path d="M0.8 0.8 L4.5 4.5 L8.2 0.8" fill="none" stroke="#5f6368" stroke-width="1.2"/></svg>
<div class="t" style="left:13.00px;top:30.00px;font-size:11px;color:#202124;">ad_groups_dimensions</div>
<svg class="s" style="left:131.5px;top:32.5px;" width="9" height="6" viewBox="0 0 9 6"><path d="M0.8 0.8 L4.5 4.5 L8.2 0.8" fill="none" stroke="#5f6368" stroke-width="1.2"/></svg>
<div class="t" style="left:13.00px;top:52.00px;font-size:11px;color:#202124;">ads_dimensions</div>
<svg class="s" style="left:131.5px;top:54.5px;" width="9" height="6" viewBox="0 0 9 6"><path d="M0.8 0.8 L4.5 4.5 L8.2 0.8" fill="none" stroke="#5f6368" stroke-width="1.2"/></svg>
<div class="t" style="left:13.00px;top:74.00px;font-size:11px;color:#202124;">age</div>
<svg class="s" style="left:131.5px;top:76.5px;" width="9" height="6" viewBox="0 0 9 6"><path d="M0.8 0.8 L4.5 4.5 L8.2 0.8" fill="none" stroke="#5f6368" stroke-width="1.2"/></svg>
<div class="t" style="left:13.00px;top:96.00px;font-size:11px;color:#202124;">campaigns_dimensions</div>
<svg class="s" style="left:131.5px;top:98.5px;" width="9" height="6" viewBox="0 0 9 6"><path d="M0.8 0.8 L4.5 4.5 L8.2 0.8" fill="none" stroke="#5f6368" stroke-width="1.2"/></svg>
<div class="t" style="left:13.00px;top:118.00px;font-size:11px;color:#202124;">local_service_leads</div>
<svg class="s" style="left:131.5px;top:120.5px;" width="9" height="6" viewBox="0 0 9 6"><path d="M0.8 0.8 L4.5 4.5 L8.2 0.8" fill="none" stroke="#5f6368" stroke-width="1.2"/></svg>
<div class="t" style="left:13.00px;top:140.00px;font-size:11px;color:#202124;">geotargets_city</div>
<svg class="s" style="left:131.5px;top:142.5px;" width="9" height="6" viewBox="0 0 9 6"><path d="M0.8 0.8 L4.5 4.5 L8.2 0.8" fill="none" stroke="#5f6368" stroke-width="1.2"/></svg>
<div class="t" style="left:13.00px;top:162.00px;font-size:11px;color:#202124;">shopping</div>
<svg class="s" style="left:131.5px;top:164.5px;" width="9" height="6" viewBox="0 0 9 6"><path d="M0.8 0.8 L4.5 4.5 L8.2 0.8" fill="none" stroke="#5f6368" stroke-width="1.2"/></svg>
<div class="t" style="left:13.00px;top:184.00px;font-size:11px;color:#202124;">geotargets_country</div>
<svg class="s" style="left:131.5px;top:186.5px;" width="9" height="6" viewBox="0 0 9 6"><path d="M0.8 0.8 L4.5 4.5 L8.2 0.8" fill="none" stroke="#5f6368" stroke-width="1.2"/></svg>
<div class="t" style="left:13.00px;top:206.00px;font-size:11px;color:#202124;">keywords</div>
<svg class="s" style="left:131.5px;top:208.5px;" width="9" height="6" viewBox="0 0 9 6"><path d="M0.8 0.8 L4.5 4.5 L8.2 0.8" fill="none" stroke="#5f6368" stroke-width="1.2"/></svg>
<div class="t" style="left:13.00px;top:228.00px;font-size:11px;color:#202124;">gender</div>
<svg class="s" style="left:131.5px;top:230.5px;" width="9" height="6" viewBox="0 0 9 6"><path d="M0.8 0.8 L4.5 4.5 L8.2 0.8" fill="none" stroke="#5f6368" stroke-width="1.2"/></svg>
<div class="t" style="left:13.00px;top:250.00px;font-size:11px;color:#202124;">campaigns_insights</div>
<svg class="s" style="left:131.5px;top:252.5px;" width="9" height="6" viewBox="0 0 9 6"><path d="M0.8 0.8 L4.5 4.5 L8.2 0.8" fill="none" stroke="#5f6368" stroke-width="1.2"/></svg>
<div class="t" style="left:13.00px;top:272.00px;font-size:11px;color:#202124;">ad_groups_insights</div>
<svg class="s" style="left:131.5px;top:274.5px;" width="9" height="6" viewBox="0 0 9 6"><path d="M0.8 0.8 L4.5 4.5 L8.2 0.8" fill="none" stroke="#5f6368" stroke-width="1.2"/></svg>
<div class="t" style="left:13.00px;top:294.00px;font-size:11px;color:#202124;">geotargets_postal_co...</div>
<svg class="s" style="left:131.5px;top:296.5px;" width="9" height="6" viewBox="0 0 9 6"><path d="M0.8 0.8 L4.5 4.5 L8.2 0.8" fill="none" stroke="#5f6368" stroke-width="1.2"/></svg>
<div class="t" style="left:13.00px;top:316.00px;font-size:11px;color:#202124;">geotargets_region</div>
<svg class="s" style="left:131.5px;top:318.5px;" width="9" height="6" viewBox="0 0 9 6"><path d="M0.8 0.8 L4.5 4.5 L8.2 0.8" fill="none" stroke="#5f6368" stroke-width="1.2"/></svg>
<div class="t" style="left:13.00px;top:338.00px;font-size:11px;color:#202124;">search</div>
<svg class="s" style="left:131.5px;top:340.5px;" width="9" height="6" viewBox="0 0 9 6"><path d="M0.8 0.8 L4.5 4.5 L8.2 0.8" fill="none" stroke="#5f6368" stroke-width="1.2"/></svg>
<div class="t" style="left:12px;top:362px;font-family:'Liberation Mono',monospace;font-weight:700;font-size:8px;line-height:8px;color:#8cc498;-webkit-text-stroke:0.22px #8cc498;letter-spacing:-0.1px;transform:scaleY(1.45);transform-origin:0 6px;">ABC</div>
<div class="t" style="left:38.00px;top:359.00px;font-size:11px;color:#202124;">Account ID</div>
<div class="t" style="left:12px;top:384px;font-family:'Liberation Mono',monospace;font-weight:700;font-size:8px;line-height:8px;color:#8cc498;-webkit-text-stroke:0.22px #8cc498;letter-spacing:-0.1px;transform:scaleY(1.45);transform-origin:0 6px;">ABC</div>
<div class="t" style="left:38.00px;top:381.00px;font-size:11px;color:#202124;">Account Name</div>
<div class="t" style="left:12px;top:406px;font-family:'Liberation Mono',monospace;font-weight:700;font-size:8px;line-height:8px;color:#8cc498;-webkit-text-stroke:0.22px #8cc498;letter-spacing:-0.1px;transform:scaleY(1.45);transform-origin:0 6px;">ABC</div>
<div class="t" style="left:38.00px;top:403.00px;font-size:11px;color:#202124;">Ad group ID</div>
<div class="t" style="left:12px;top:428px;font-family:'Liberation Mono',monospace;font-weight:700;font-size:8px;line-height:8px;color:#8cc498;-webkit-text-stroke:0.22px #8cc498;letter-spacing:-0.1px;transform:scaleY(1.45);transform-origin:0 6px;">ABC</div>
<div class="t" style="left:38.00px;top:425.00px;font-size:11px;color:#202124;">Ad ID</div>
<div class="t" style="left:12px;top:450px;font-family:'Liberation Mono',monospace;font-weight:700;font-size:8px;line-height:8px;color:#8cc498;-webkit-text-stroke:0.22px #8cc498;letter-spacing:-0.1px;transform:scaleY(1.45);transform-origin:0 6px;">123</div>
<div class="t" style="left:38.00px;top:447.00px;font-size:11px;color:#202124;">All conv. rate</div>
<div class="t" style="left:12px;top:472px;font-family:'Liberation Mono',monospace;font-weight:700;font-size:8px;line-height:8px;color:#8cc498;-webkit-text-stroke:0.22px #8cc498;letter-spacing:-0.1px;transform:scaleY(1.45);transform-origin:0 6px;">123</div>
<div class="t" style="left:38.00px;top:469.00px;font-size:11px;color:#202124;">All conv. value/click</div>
<div class="t" style="left:12px;top:494px;font-family:'Liberation Mono',monospace;font-weight:700;font-size:8px;line-height:8px;color:#8cc498;-webkit-text-stroke:0.22px #8cc498;letter-spacing:-0.1px;transform:scaleY(1.45);transform-origin:0 6px;">123</div>
<div class="t" style="left:38.00px;top:491.00px;font-size:11px;color:#202124;">All conv. value/cost</div>
<div class="t" style="left:12px;top:516px;font-family:'Liberation Mono',monospace;font-weight:700;font-size:8px;line-height:8px;color:#8cc498;-webkit-text-stroke:0.22px #8cc498;letter-spacing:-0.1px;transform:scaleY(1.45);transform-origin:0 6px;">123</div>
<div class="t" style="left:38.00px;top:513.00px;font-size:11px;color:#202124;">All conversions</div>
<div class="t" style="left:12px;top:538px;font-family:'Liberation Mono',monospace;font-weight:700;font-size:8px;line-height:8px;color:#8cc498;-webkit-text-stroke:0.22px #8cc498;letter-spacing:-0.1px;transform:scaleY(1.45);transform-origin:0 6px;">123</div>
<div class="t" style="left:38.00px;top:535.00px;font-size:11px;color:#202124;">All conversions value</div>
<div class="t" style="left:12px;top:560px;font-family:'Liberation Mono',monospace;font-weight:700;font-size:8px;line-height:8px;color:#8cc498;-webkit-text-stroke:0.22px #8cc498;letter-spacing:-0.1px;transform:scaleY(1.45);transform-origin:0 6px;">ABC</div>
<div class="t" style="left:38.00px;top:557.00px;font-size:11px;color:#202124;">Approval Status</div>
<div class="t" style="left:12px;top:582px;font-family:'Liberation Mono',monospace;font-weight:700;font-size:8px;line-height:8px;color:#8cc498;-webkit-text-stroke:0.22px #8cc498;letter-spacing:-0.1px;transform:scaleY(1.45);transform-origin:0 6px;">ABC</div>
<div class="t" style="left:38.00px;top:579.00px;font-size:11px;color:#202124;">Asset ID</div>
<svg class="s" style="left:13px;top:601px;" width="13" height="12" viewBox="0 0 13 12"><rect x="0" y="0" width="12.5" height="12" fill="#8fc79c"/><path d="M2 10 L4.8 6.5 L6.6 8.5 L8.3 6 L11 10 Z" fill="#fff"/></svg>
<div class="t" style="left:38.00px;top:601.00px;font-size:11px;color:#202124;">Asset Image URL</div>
<div class="t" style="left:12px;top:626px;font-family:'Liberation Mono',monospace;font-weight:700;font-size:8px;line-height:8px;color:#8cc498;-webkit-text-stroke:0.22px #8cc498;letter-spacing:-0.1px;transform:scaleY(1.45);transform-origin:0 6px;">123</div>
<div class="t" style="left:38.00px;top:623.00px;font-size:11px;color:#202124;">Average Time On Site</div>
</div>
<div class="r" style="left:1190px;top:879px;width:159px;height:1px;background:#c4c7c5;"></div>
<svg class="s" style="left:1197px;top:890px;" width="16" height="16" viewBox="0 0 16 16"><circle cx="8" cy="8" r="8" fill="#3b7ded"/><path d="M8 3.8 V12.2 M3.8 8 H12.2" stroke="#fff" stroke-width="1.8"/></svg>
<div class="t" style="left:1223.90px;top:892.00px;font-size:12px;color:#1a73e8;letter-spacing:-0.391px;">Add Data</div>
<div class="r" style="left:1355px;top:112px;width:68px;height:63px;background:#e8f0fe;border-radius:8px;"></div>
<svg class="s" style="left:1378px;top:125px;" width="22" height="22" viewBox="0 0 22 22"><rect x="1.5" y="1.5" width="19" height="19" fill="none" stroke="#1a73e8" stroke-width="2.2"/><path d="M1.5 8 H20.5 M1.5 14 H20.5" stroke="#1a73e8" stroke-width="2"/><rect x="4" y="4" width="2" height="2" fill="#1a73e8"/><rect x="4" y="10" width="2" height="2" fill="#1a73e8"/><rect x="4" y="16" width="2" height="2" fill="#1a73e8"/></svg>
<div class="t" style="left:1376.00px;top:153.00px;font-size:12px;color:#1a73e8;letter-spacing:0.217px;">Data</div>
<svg class="s" style="left:1379px;top:198px;" width="20" height="20" viewBox="0 0 20 20"><path d="M2.5 17.5 L3 13.8 L12.6 4.2 L15.8 7.4 L6.2 17 Z" fill="none" stroke="#5f6368" stroke-width="1.8" stroke-linejoin="round"/><path d="M12.2 3.2 L14 1.5 Q15 0.6 16 1.5 L18.4 3.9 Q19.3 4.9 18.4 5.9 L16.7 7.6 Z" fill="#5f6368"/></svg>
<div class="t" style="left:1360.20px;top:226.00px;font-size:12.5px;color:#5f6368;letter-spacing:0.070px;">Properties</div>
<div class="r" style="left:1355px;top:256px;width:68px;height:63px;background:#e8f0fe;border-radius:8px;"></div>
<svg class="s" style="left:1380px;top:271px;" width="18" height="20" viewBox="0 0 18 20"><path d="M1.8 1.8 H16.2 L9 10.2 Z" fill="none" stroke="#1a73e8" stroke-width="2.3" stroke-linejoin="round"/><rect x="7.6" y="8.5" width="2.8" height="8.6" fill="#1a73e8"/></svg>
<div class="t" style="left:1364.50px;top:297.00px;font-size:12.5px;color:#1a73e8;letter-spacing:-0.035px;">Filter bar</div>
<svg class="s" style="left:1388px;top:878px;" width="10" height="14" viewBox="0 0 10 14"><path d="M2 1.5 L7.5 7 L2 12.5" fill="none" stroke="#5f6368" stroke-width="1.8"/></svg>
<div class="r" style="left:366px;top:63px;width:280px;height:240px;background:#fff;border-radius:0 0 4px 4px;box-shadow:0 2px 4px rgba(0,0,0,0.25),0 1px 10px rgba(0,0,0,0.12);"></div>
<div class="r" style="left:366px;top:69px;width:277px;height:33px;background:#f5f5f5;"></div>
<div class="t" style="left:410.60px;top:79.00px;font-size:14.3px;color:#444746;letter-spacing:-0.074px;">Manage added data sources</div>
<div class="t" style="left:410.60px;top:111.00px;font-size:14.3px;color:#444746;">Manage blends</div>
<div class="t" style="left:410.60px;top:143.00px;font-size:14.3px;color:#444746;">Manage segments</div>
<div class="t" style="left:410.60px;top:175.00px;font-size:14.3px;color:#444746;">Manage filters</div>
<div class="t" style="left:410.60px;top:207.00px;font-size:14.3px;color:#444746;letter-spacing:-0.004px;">Manage dimension value colors</div>
<div class="t" style="left:410.60px;top:239.00px;font-size:14.3px;color:#444746;letter-spacing:-0.087px;">Manage report URL parameters</div>
<div class="t" style="left:410.60px;top:271.00px;font-size:14.3px;color:#444746;letter-spacing:0.120px;">Manage community visualizations</div>
<div class="r" style="left:363px;top:66px;width:283px;height:39px;background:transparent;border:3px solid #ff0000;box-sizing:border-box;"></div>
<svg class="s" style="left:611px;top:75px;" width="22" height="26" viewBox="0 0 22 26"><path d="M6 2.5 Q6 1 7.5 1 Q9 1 9 2.5 V9 L9.5 7.5 Q11 7 11.8 8 L12.2 8.5 Q13.5 8 14.3 9 L14.6 9.6 Q16 9.2 16.8 10.3 Q17.5 11 17.5 13 V18 L16.2 22.5 H7 L2 14 Q1.5 12.5 3 12.3 Q4 12.2 6 14.5 Z" fill="#fff" stroke="#000" stroke-width="1.5" stroke-linejoin="miter"/><path d="M9 9 V13 M11.8 8.3 V13 M14.5 9.4 V13" stroke="#000" stroke-width="1.2"/></svg>
</body></html>
